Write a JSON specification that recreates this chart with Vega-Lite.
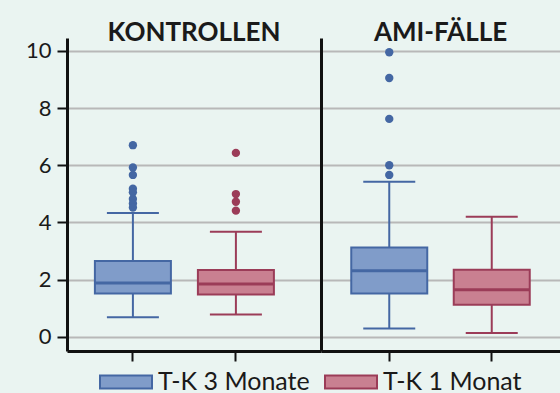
{
  "$schema": "https://vega.github.io/schema/vega-lite/v6.json",
  "padding": {"left": 25, "top": 20, "right": 0, "bottom": 0},
  "background": "#eaf4f1",
  "spacing": 0,
  "datasets": {
    "boxes": [
      {"Gruppe": "KONTROLLEN", "Serie": "T-K 3 Monate", "lower": 0.68, "q1": 1.51, "median": 1.88, "q3": 2.65, "upper": 4.33},
      {"Gruppe": "KONTROLLEN", "Serie": "T-K 1 Monat", "lower": 0.78, "q1": 1.48, "median": 1.84, "q3": 2.33, "upper": 3.67},
      {"Gruppe": "AMI-FÄLLE", "Serie": "T-K 3 Monate", "lower": 0.29, "q1": 1.51, "median": 2.31, "q3": 3.12, "upper": 5.42},
      {"Gruppe": "AMI-FÄLLE", "Serie": "T-K 1 Monat", "lower": 0.13, "q1": 1.12, "median": 1.64, "q3": 2.34, "upper": 4.2}
    ],
    "outliers": [
      {"Gruppe": "KONTROLLEN", "Serie": "T-K 3 Monate", "value": 6.7},
      {"Gruppe": "KONTROLLEN", "Serie": "T-K 3 Monate", "value": 5.92},
      {"Gruppe": "KONTROLLEN", "Serie": "T-K 3 Monate", "value": 5.66},
      {"Gruppe": "KONTROLLEN", "Serie": "T-K 3 Monate", "value": 5.18},
      {"Gruppe": "KONTROLLEN", "Serie": "T-K 3 Monate", "value": 5.05},
      {"Gruppe": "KONTROLLEN", "Serie": "T-K 3 Monate", "value": 4.82},
      {"Gruppe": "KONTROLLEN", "Serie": "T-K 3 Monate", "value": 4.66},
      {"Gruppe": "KONTROLLEN", "Serie": "T-K 3 Monate", "value": 4.52},
      {"Gruppe": "KONTROLLEN", "Serie": "T-K 1 Monat", "value": 6.43},
      {"Gruppe": "KONTROLLEN", "Serie": "T-K 1 Monat", "value": 4.99},
      {"Gruppe": "KONTROLLEN", "Serie": "T-K 1 Monat", "value": 4.72},
      {"Gruppe": "KONTROLLEN", "Serie": "T-K 1 Monat", "value": 4.41},
      {"Gruppe": "AMI-FÄLLE", "Serie": "T-K 3 Monate", "value": 9.95},
      {"Gruppe": "AMI-FÄLLE", "Serie": "T-K 3 Monate", "value": 9.05},
      {"Gruppe": "AMI-FÄLLE", "Serie": "T-K 3 Monate", "value": 7.62},
      {"Gruppe": "AMI-FÄLLE", "Serie": "T-K 3 Monate", "value": 6.0},
      {"Gruppe": "AMI-FÄLLE", "Serie": "T-K 3 Monate", "value": 5.66}
    ]
  },
  "hconcat": [
    {
      "width": 254,
      "height": 313,
      "title": "KONTROLLEN",
      "layer": [
        {
          "data": {"name": "boxes"},
          "transform": [{"filter": "datum.Gruppe === 'KONTROLLEN'"}],
          "mark": {"type": "rule", "strokeWidth": 2},
          "encoding": {
            "x": {"field": "Serie", "type": "nominal", "sort": ["T-K 3 Monate", "T-K 1 Monat"], "title": null, "scale": {"paddingInner": 0, "paddingOuter": 0.233, "align": 0.3}, "axis": {"labels": false, "title": null, "tickSize": 10, "tickWidth": 2, "tickColor": "#111111", "domainColor": "#111111", "domainWidth": 3, "grid": false}},
            "y": {"field": "lower", "type": "quantitative", "title": null, "scale": {"domain": [-0.5, 10.45], "nice": false, "zero": false}, "axis": {"values": [0, 2, 4, 6, 8, 10], "title": null, "labelFont": "Lato", "labelFontSize": 22, "labelColor": "#1a1a1a", "labelPadding": 6, "tickSize": 10, "tickWidth": 2, "tickColor": "#111111", "domainColor": "#111111", "domainWidth": 3, "grid": true, "gridColor": "#b8b8b8", "gridWidth": 2}},
            "y2": {"field": "upper"},
            "stroke": {"field": "Serie", "type": "nominal", "scale": {"domain": ["T-K 3 Monate", "T-K 1 Monat"], "range": ["#4467a3", "#9b3c58"]}, "legend": {"symbolStrokeWidth": 2}}
          }
        },
        {
          "data": {"name": "boxes"},
          "transform": [{"filter": "datum.Gruppe === 'KONTROLLEN'"}],
          "mark": {"type": "bar", "size": 76, "strokeWidth": 2},
          "encoding": {
            "x": {"field": "Serie", "type": "nominal", "sort": ["T-K 3 Monate", "T-K 1 Monat"]},
            "y": {"field": "q1", "type": "quantitative"},
            "y2": {"field": "q3"},
            "fill": {"field": "Serie", "type": "nominal", "scale": {"domain": ["T-K 3 Monate", "T-K 1 Monat"], "range": ["#809cc9", "#c98091"]}, "legend": {"symbolStrokeWidth": 2}},
            "stroke": {"field": "Serie", "type": "nominal"}
          }
        },
        {
          "data": {"name": "boxes"},
          "transform": [{"filter": "datum.Gruppe === 'KONTROLLEN'"}],
          "mark": {"type": "tick", "size": 76, "thickness": 3, "opacity": 1},
          "encoding": {
            "x": {"field": "Serie", "type": "nominal", "sort": ["T-K 3 Monate", "T-K 1 Monat"]},
            "y": {"field": "median", "type": "quantitative"},
            "color": {"field": "Serie", "type": "nominal", "scale": {"domain": ["T-K 3 Monate", "T-K 1 Monat"], "range": ["#4467a3", "#9b3c58"]}, "legend": null}
          }
        },
        {
          "data": {"name": "boxes"},
          "transform": [{"filter": "datum.Gruppe === 'KONTROLLEN'"}],
          "mark": {"type": "tick", "size": 52, "thickness": 2, "opacity": 1},
          "encoding": {
            "x": {"field": "Serie", "type": "nominal", "sort": ["T-K 3 Monate", "T-K 1 Monat"]},
            "y": {"field": "lower", "type": "quantitative"},
            "color": {"field": "Serie", "type": "nominal", "legend": null}
          }
        },
        {
          "data": {"name": "boxes"},
          "transform": [{"filter": "datum.Gruppe === 'KONTROLLEN'"}],
          "mark": {"type": "tick", "size": 52, "thickness": 2, "opacity": 1},
          "encoding": {
            "x": {"field": "Serie", "type": "nominal", "sort": ["T-K 3 Monate", "T-K 1 Monat"]},
            "y": {"field": "upper", "type": "quantitative"},
            "color": {"field": "Serie", "type": "nominal", "legend": null}
          }
        },
        {
          "data": {"name": "outliers"},
          "transform": [{"filter": "datum.Gruppe === 'KONTROLLEN'"}],
          "mark": {"type": "circle", "size": 70, "opacity": 1},
          "encoding": {
            "x": {"field": "Serie", "type": "nominal", "sort": ["T-K 3 Monate", "T-K 1 Monat"]},
            "y": {"field": "value", "type": "quantitative"},
            "color": {"field": "Serie", "type": "nominal", "legend": null}
          }
        }
      ]
    },
    {
      "width": 239,
      "height": 313,
      "title": "AMI-FÄLLE",
      "layer": [
        {
          "data": {"name": "boxes"},
          "transform": [{"filter": "datum.Gruppe === 'AMI-FÄLLE'"}],
          "mark": {"type": "rule", "strokeWidth": 2},
          "encoding": {
            "x": {"field": "Serie", "type": "nominal", "sort": ["T-K 3 Monate", "T-K 1 Monat"], "title": null, "scale": {"paddingInner": 0, "paddingOuter": 0.166, "align": 0.5}, "axis": {"labels": false, "title": null, "tickSize": 10, "tickWidth": 2, "tickColor": "#111111", "domainColor": "#111111", "domainWidth": 3, "grid": false}},
            "y": {"field": "lower", "type": "quantitative", "title": null, "scale": {"domain": [-0.5, 10.45], "nice": false, "zero": false}, "axis": {"values": [0, 2, 4, 6, 8, 10], "title": null, "labels": false, "ticks": false, "domainColor": "#111111", "domainWidth": 3, "grid": true, "gridColor": "#b8b8b8", "gridWidth": 2}},
            "y2": {"field": "upper"},
            "stroke": {"field": "Serie", "type": "nominal", "legend": {"symbolStrokeWidth": 2}}
          }
        },
        {
          "data": {"name": "boxes"},
          "transform": [{"filter": "datum.Gruppe === 'AMI-FÄLLE'"}],
          "mark": {"type": "bar", "size": 76, "strokeWidth": 2},
          "encoding": {
            "x": {"field": "Serie", "type": "nominal", "sort": ["T-K 3 Monate", "T-K 1 Monat"]},
            "y": {"field": "q1", "type": "quantitative"},
            "y2": {"field": "q3"},
            "fill": {"field": "Serie", "type": "nominal", "legend": {"symbolStrokeWidth": 2}},
            "stroke": {"field": "Serie", "type": "nominal"}
          }
        },
        {
          "data": {"name": "boxes"},
          "transform": [{"filter": "datum.Gruppe === 'AMI-FÄLLE'"}],
          "mark": {"type": "tick", "size": 76, "thickness": 3, "opacity": 1},
          "encoding": {
            "x": {"field": "Serie", "type": "nominal", "sort": ["T-K 3 Monate", "T-K 1 Monat"]},
            "y": {"field": "median", "type": "quantitative"},
            "color": {"field": "Serie", "type": "nominal", "legend": null}
          }
        },
        {
          "data": {"name": "boxes"},
          "transform": [{"filter": "datum.Gruppe === 'AMI-FÄLLE'"}],
          "mark": {"type": "tick", "size": 52, "thickness": 2, "opacity": 1},
          "encoding": {
            "x": {"field": "Serie", "type": "nominal", "sort": ["T-K 3 Monate", "T-K 1 Monat"]},
            "y": {"field": "lower", "type": "quantitative"},
            "color": {"field": "Serie", "type": "nominal", "legend": null}
          }
        },
        {
          "data": {"name": "boxes"},
          "transform": [{"filter": "datum.Gruppe === 'AMI-FÄLLE'"}],
          "mark": {"type": "tick", "size": 52, "thickness": 2, "opacity": 1},
          "encoding": {
            "x": {"field": "Serie", "type": "nominal", "sort": ["T-K 3 Monate", "T-K 1 Monat"]},
            "y": {"field": "upper", "type": "quantitative"},
            "color": {"field": "Serie", "type": "nominal", "legend": null}
          }
        },
        {
          "data": {"name": "outliers"},
          "transform": [{"filter": "datum.Gruppe === 'AMI-FÄLLE'"}],
          "mark": {"type": "circle", "size": 70, "opacity": 1},
          "encoding": {
            "x": {"field": "Serie", "type": "nominal", "sort": ["T-K 3 Monate", "T-K 1 Monat"]},
            "y": {"field": "value", "type": "quantitative"},
            "color": {"field": "Serie", "type": "nominal", "legend": null}
          }
        }
      ]
    }
  ],
  "config": {
    "view": {"stroke": null},
    "font": "Lato",
    "title": {"font": "Lato", "fontSize": 26, "fontWeight": "bold", "color": "#1a1a1a", "anchor": "middle", "frame": "group", "baseline": "alphabetic", "offset": -8},
    "legend": {
      "orient": "none",
      "legendX": 32,
      "legendY": 317,
      "direction": "horizontal",
      "title": null,
      "labelFont": "Lato",
      "labelFontSize": 25,
      "labelColor": "#1a1a1a",
      "labelOffset": 5,
      "columnPadding": 11,
      "symbolType": "M-1,-0.25H1V0.25H-1Z",
      "symbolSize": 2704,
      "symbolStrokeWidth": 2,
      "symbolOpacity": 1
    }
  },
  "resolve": {"scale": {"fill": "shared", "stroke": "shared", "color": "shared"}}
}
